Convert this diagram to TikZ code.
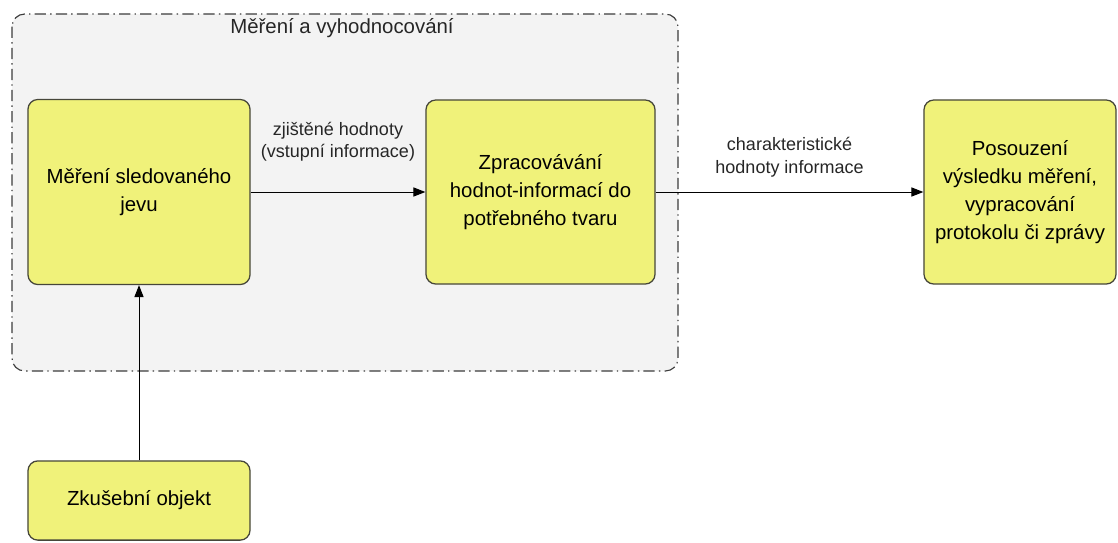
\documentclass[tikz,border=0pt]{standalone}
\usepackage{fontspec}
\setmainfont{Liberation Sans}
\usetikzlibrary{arrows.meta,positioning}
\definecolor{boxyellow}{RGB}{240,242,122}
\definecolor{boxedge}{RGB}{70,70,58}
\definecolor{groupgray}{RGB}{243,243,243}
\definecolor{groupedge}{RGB}{60,60,60}
\tikzset{
  stage/.style={draw=boxedge,fill=boxyellow,line width=0.9pt,rounded corners=7pt,
    align=center,font=\fontsize{14.5}{20}\selectfont,inner sep=2pt},
  flow/.style={-{Triangle[length=8.5pt,width=6.5pt]},line width=0.7pt},
  flowlab/.style={align=center,font=\fontsize{12.8}{16}\selectfont,text=black!85},
  groupbox/.style={draw=groupedge,fill=groupgray,line width=0.8pt,rounded corners=9pt,
    dash pattern=on 8pt off 3pt on 1pt off 3pt},
}
\begin{document}
\begin{tikzpicture}[x=0.025cm,y=-0.025cm]
        \useasboundingbox (0,0) rectangle (1118,542);
        % --- skupina: mereni a vyhodnocovani ---
        \draw[groupbox] (12,14) rectangle (678,371);
        \node[font=\fontsize{14.5}{18}\selectfont,text=black!85] (grouptitle) at (342,28) {Měření a vyhodnocování};
        % stages
        \node[stage,minimum width=5.55cm,minimum height=4.625cm] (mereni) at (139,192)
          {Měření sledovaného\\jevu};
        \node[stage,minimum width=5.725cm,minimum height=4.6cm] (zpracovani) at (540.5,192)
          {Zpracovávání\\hodnot-informací do\\potřebného tvaru};
        \node[stage,minimum width=4.8cm,minimum height=4.6cm] (posouzeni) at (1020,192)
          {Posouzení\\výsledku měření,\\vypracování\\protokolu či zprávy};
        \node[stage,minimum width=5.55cm,minimum height=1.98cm] (objekt) at (139,500.5)
          {Zkušební objekt};
        % connectors
        \draw[flow] (mereni) -- (zpracovani)
          node[flowlab,midway,above=18pt] (lab1) {zjištěné hodnoty\\(vstupní informace)};
        \draw[flow] (zpracovani) -- (posouzeni)
          node[flowlab,midway,above=7pt] (lab2) {charakteristické\\hodnoty informace};
        \draw[flow] (objekt) -- (mereni);
      \end{tikzpicture}
\end{document}
